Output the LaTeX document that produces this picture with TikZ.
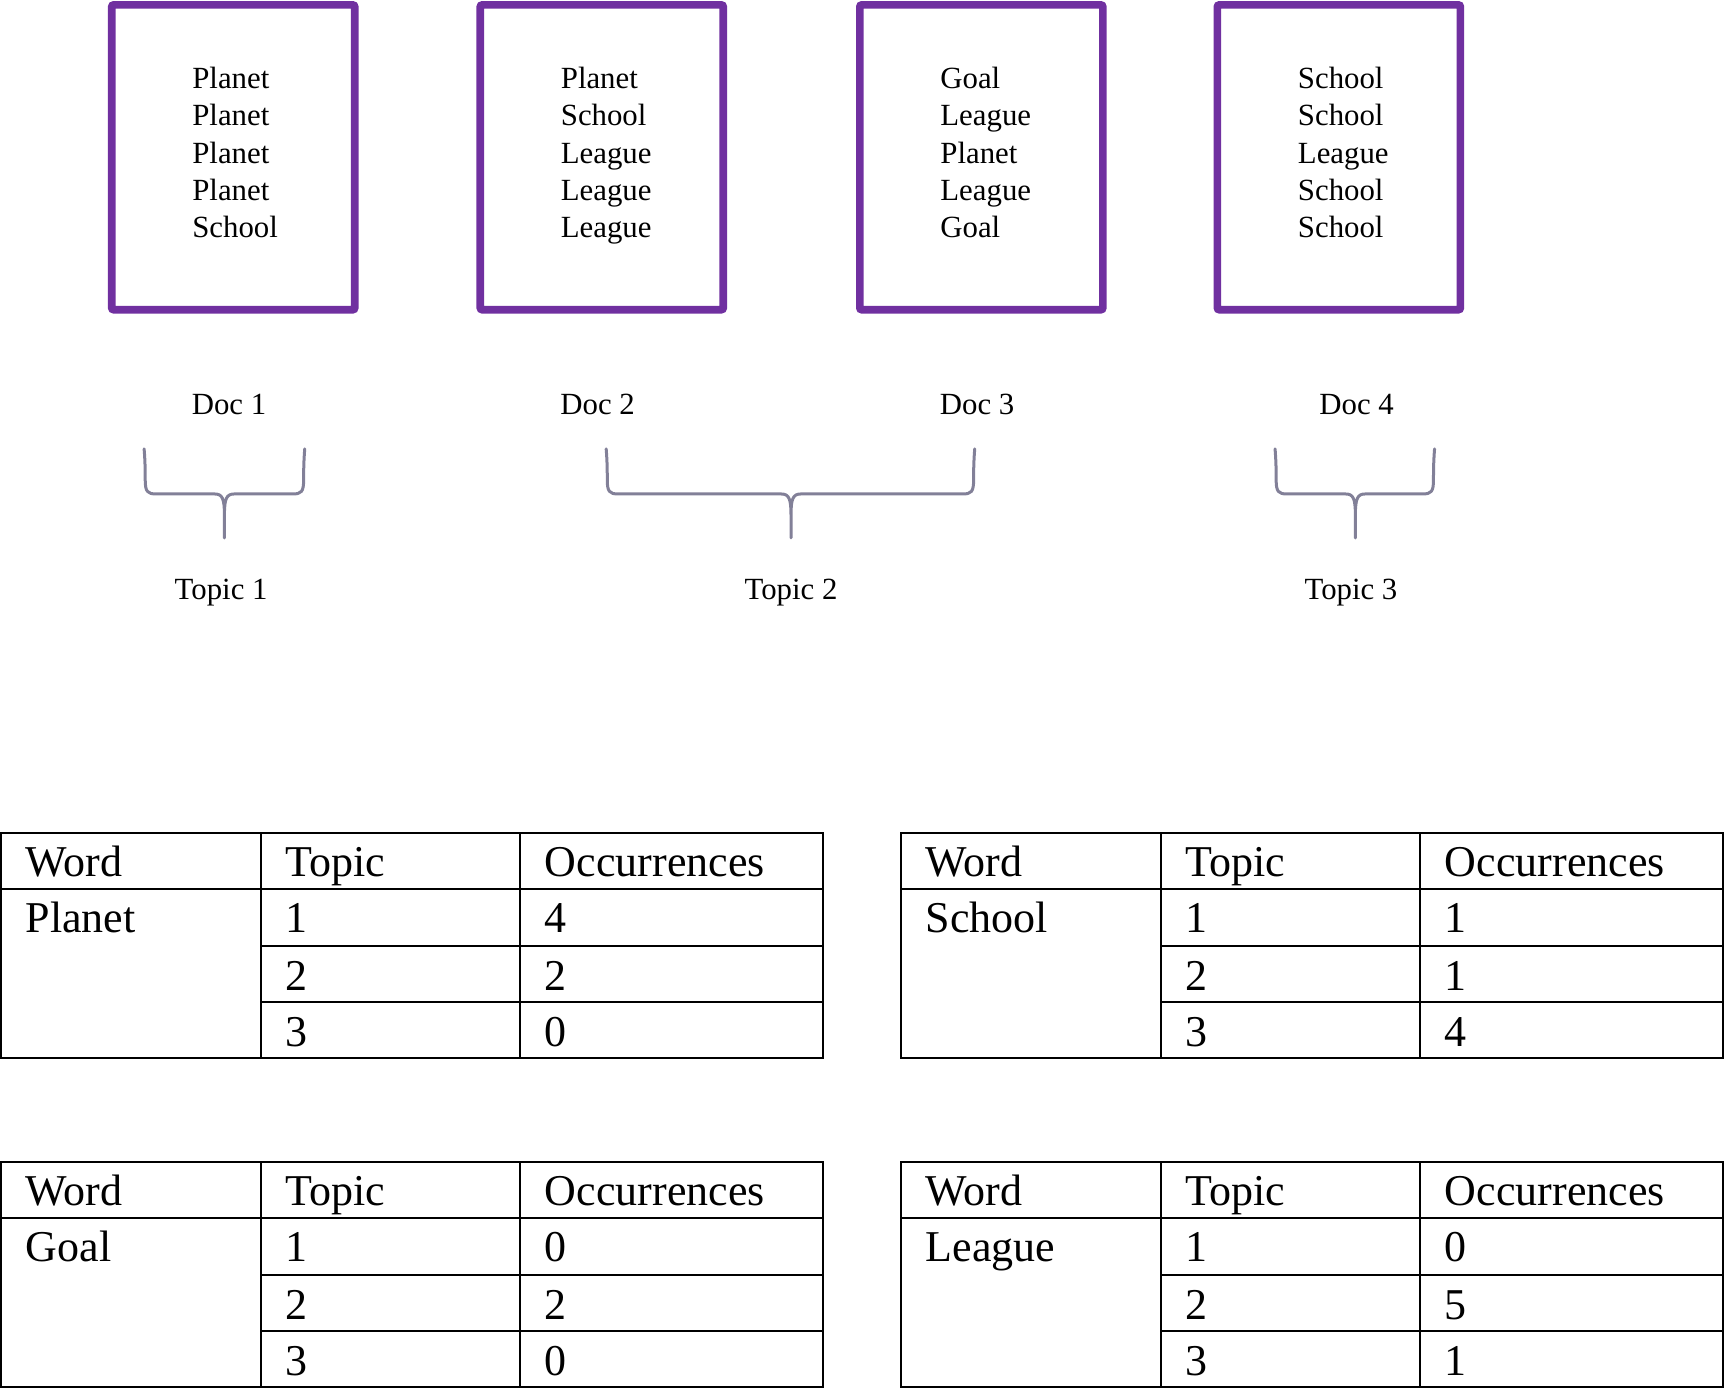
\documentclass[tikz,border=0pt]{standalone}
\usepackage{fontspec}
\setmainfont{Liberation Serif}
\usetikzlibrary{positioning}
\definecolor{docpurple}{RGB}{112,48,160}
\definecolor{bracegray}{RGB}{130,128,152}

\begin{document}
\begin{tikzpicture}[
  x=0.55pt, y=-0.55pt,
  docbox/.style={draw=docpurple, line width=3.8pt, rounded corners=1pt,
                 minimum width=121.5pt, minimum height=152.4pt, inner sep=0pt},
  words/.style={align=left, inner sep=0pt, anchor=north west, font=\fontsize{15.4}{18.7}\selectfont},
  lbl/.style={inner sep=0pt, font=\fontsize{15.4}{18.7}\selectfont},
  brace/.style={draw=bracegray, line width=1.5pt, line cap=round, line join=round},
  grid/.style={draw=black, line width=1pt},
  cell/.style={inner sep=0pt, anchor=base west, font=\fontsize{22}{26}\selectfont},
]
\useasboundingbox (0,0) rectangle (1568,1262);
% the four documents
\node[docbox] (doc1) at (212,143) {};
\node[docbox] (doc2) at (547,143) {};
\node[docbox] (doc3) at (892,143) {};
\node[docbox] (doc4) at (1217,143) {};
\node[words] (txt1) at ([shift={(42pt,-32.7pt)}]doc1.north west) {Planet\\Planet\\Planet\\Planet\\School};
\node[words] (txt2) at ([shift={(42pt,-32.7pt)}]doc2.north west) {Planet\\School\\League\\League\\League};
\node[words] (txt3) at ([shift={(42pt,-32.7pt)}]doc3.north west) {Goal\\League\\Planet\\League\\Goal};
\node[words] (txt4) at ([shift={(42pt,-32.7pt)}]doc4.north west) {School\\School\\League\\School\\School};
\node[lbl, anchor=base west] (lab1) at (174,377) {Doc 1};
\node[lbl, anchor=base west] (lab2) at (509,377) {Doc 2};
\node[lbl, anchor=base west] (lab3) at (854,377) {Doc 3};
\node[lbl, anchor=base west] (lab4) at (1199,377) {Doc 4};
% braces grouping docs into topics
\foreach \l/\c/\r in {131/204/277, 551/719/886, 1159/1232/1304} {
  \draw[brace] (\l,408) .. controls (\l+1,420) and (\l+1,430) .. (\l+1,436)
    .. controls (\l+1,447) and (\l+3,449) .. (\l+11,449)
    -- (\c-9,449) .. controls (\c-2,449) and (\c,453) .. (\c,468) -- (\c,489)
    -- (\c,468) .. controls (\c,453) and (\c+2,449) .. (\c+9,449)
    -- (\r-11,449) .. controls (\r-3,449) and (\r-1,447) .. (\r-1,436)
    .. controls (\r-1,430) and (\r-1,420) .. (\r,408);
}
\node[lbl, anchor=base] (top1) at (201,545) {Topic 1};
\node[lbl, anchor=base] (top2) at (719,545) {Topic 2};
\node[lbl, anchor=base] (top3) at (1228,545) {Topic 3};
% word / topic tables
\foreach \tx/\ty/\wrd/\na/\nb/\nc [count=\i] in
    {1/757/Planet/4/2/0, 819/757/School/1/1/4, 1/1056/Goal/0/2/0, 819/1056/League/0/5/1} {
  \draw[grid] (\tx,\ty) rectangle (\tx+747,\ty+205);
  \draw[grid] (\tx,\ty+51) -- (\tx+747,\ty+51);
  \draw[grid] (\tx+236,\ty+103) -- (\tx+747,\ty+103);
  \draw[grid] (\tx+236,\ty+154) -- (\tx+747,\ty+154);
  \draw[grid] (\tx+236,\ty) -- (\tx+236,\ty+205);
  \draw[grid] (\tx+472,\ty) -- (\tx+472,\ty+205);
  \node[cell] (hw\i) at (\tx+22,\ty+40) {Word};
  \node[cell] (ht\i) at (\tx+258,\ty+40) {Topic};
  \node[cell] (ho\i) at (\tx+494,\ty+40) {Occurrences};
  \node[cell] (w\i) at (\tx+22,\ty+91) {\wrd};
  \node[cell] (ta\i) at (\tx+258,\ty+91) {1};
  \node[cell] (tb\i) at (\tx+258,\ty+143) {2};
  \node[cell] (tc\i) at (\tx+258,\ty+194) {3};
  \node[cell] (oa\i) at (\tx+494,\ty+91) {\na};
  \node[cell] (ob\i) at (\tx+494,\ty+143) {\nb};
  \node[cell] (oc\i) at (\tx+494,\ty+194) {\nc};
}
\end{tikzpicture}
\end{document}
